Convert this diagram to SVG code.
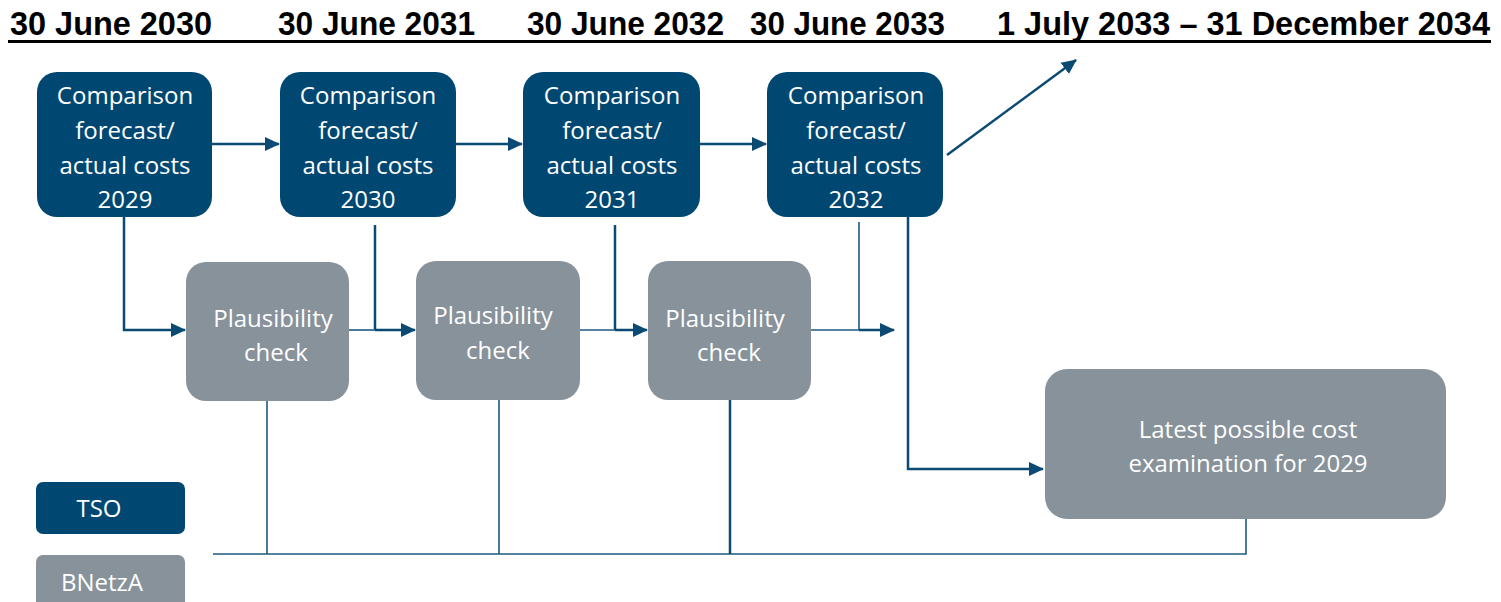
<svg xmlns="http://www.w3.org/2000/svg" width="1501" height="602" viewBox="0 0 1501 602">
<style>
.hd{font-family:"Liberation Sans",Arial,sans-serif;font-weight:bold;font-size:33px;fill:#000}
.tso{fill:#004872}
.bn{fill:#87929b}
.t{font-family:"Open Sans","Noto Sans",sans-serif;font-size:24px;fill:#fff;text-anchor:middle}
.c{fill:none;stroke:#0b4a73;stroke-width:2.5}
.c2{fill:none;stroke:#1d5a80;stroke-width:1.6}
</style>
<defs>
<marker id="ah" markerUnits="userSpaceOnUse" markerWidth="16" markerHeight="16" viewBox="0 0 16 16" refX="14" refY="8" orient="auto">
<path d="M0,1 L15,8 L0,15 Z" fill="#0b4a73"/>
</marker>
</defs>
<g id="header">
<text class="hd" x="10" y="35" textLength="202" lengthAdjust="spacingAndGlyphs">30 June 2030</text>
<text class="hd" x="278" y="35" textLength="197" lengthAdjust="spacingAndGlyphs">30 June 2031</text>
<text class="hd" x="527" y="35" textLength="197" lengthAdjust="spacingAndGlyphs">30 June 2032</text>
<text class="hd" x="750" y="35" textLength="195" lengthAdjust="spacingAndGlyphs">30 June 2033</text>
<text class="hd" x="997" y="35" textLength="493" lengthAdjust="spacingAndGlyphs">1 July 2033 – 31 December 2034</text>
<rect x="8" y="40" width="1483" height="3" fill="#000"/>
</g>
<g id="connectors">
<path class="c" d="M212,144 H279" marker-end="url(#ah)"/>
<path class="c" d="M456,144 H522" marker-end="url(#ah)"/>
<path class="c" d="M700,144 H766" marker-end="url(#ah)"/>
<path class="c" d="M947,155 L1076,60" marker-end="url(#ah)"/>
<path class="c" d="M124,217 V330 H185" marker-end="url(#ah)"/>
<path class="c" d="M375,225 V330"/>
<path class="c2" d="M349,330 H375"/>
<path class="c" d="M375,330 H415" marker-end="url(#ah)"/>
<path class="c" d="M615,225 V330"/>
<path class="c2" d="M580,330 H615"/>
<path class="c" d="M615,330 H647" marker-end="url(#ah)"/>
<path class="c2" d="M859,222 V330"/>
<path class="c2" d="M811,330 H859"/>
<path class="c" d="M859,330 H894" marker-end="url(#ah)"/>
<path class="c" d="M908,217 V469 H1043" marker-end="url(#ah)"/>
<path class="c2" d="M213,554 H1246 V519"/>
<path class="c2" d="M267,401 V554"/>
<path class="c2" d="M499,400 V554"/>
<path class="c" d="M730,400 V554"/>
</g>
<g id="tso1"><rect class="tso" x="37" y="72" width="175" height="145" rx="20"/>
<text class="t" x="125" y="104">Comparison</text><text class="t" x="125" y="139">forecast/</text><text class="t" x="125" y="174">actual costs</text><text class="t" x="125" y="208">2029</text></g>
<g id="tso2"><rect class="tso" x="280" y="72" width="176" height="145" rx="20"/>
<text class="t" x="368" y="104">Comparison</text><text class="t" x="368" y="139">forecast/</text><text class="t" x="368" y="174">actual costs</text><text class="t" x="368" y="208">2030</text></g>
<g id="tso3"><rect class="tso" x="523" y="72" width="177" height="145" rx="20"/>
<text class="t" x="612" y="104">Comparison</text><text class="t" x="612" y="139">forecast/</text><text class="t" x="612" y="174">actual costs</text><text class="t" x="612" y="208">2031</text></g>
<g id="tso4"><rect class="tso" x="767" y="72" width="176" height="145" rx="20"/>
<text class="t" x="856" y="104">Comparison</text><text class="t" x="856" y="139">forecast/</text><text class="t" x="856" y="174">actual costs</text><text class="t" x="856" y="208">2032</text></g>
<g id="pc1"><rect class="bn" x="186" y="262" width="163" height="139" rx="20"/>
<text class="t" x="273" y="327">Plausibility</text><text class="t" x="276" y="361">check</text></g>
<g id="pc2"><rect class="bn" x="416" y="261" width="164" height="139" rx="20"/>
<text class="t" x="493" y="324">Plausibility</text><text class="t" x="498" y="359">check</text></g>
<g id="pc3"><rect class="bn" x="648" y="261" width="163" height="139" rx="20"/>
<text class="t" x="725" y="327">Plausibility</text><text class="t" x="729" y="361">check</text></g>
<g id="latest"><rect class="bn" x="1045" y="369" width="401" height="150" rx="22"/>
<text class="t" x="1248" y="438">Latest possible cost</text><text class="t" x="1248" y="472">examination for 2029</text></g>
<g id="legend-tso"><rect class="tso" x="36" y="482" width="149" height="52" rx="7"/>
<text class="t" x="99" y="517">TSO</text></g>
<g id="legend-bnetza"><rect class="bn" x="36" y="555" width="149" height="60" rx="7"/>
<text class="t" x="102" y="591">BNetzA</text></g>
</svg>
